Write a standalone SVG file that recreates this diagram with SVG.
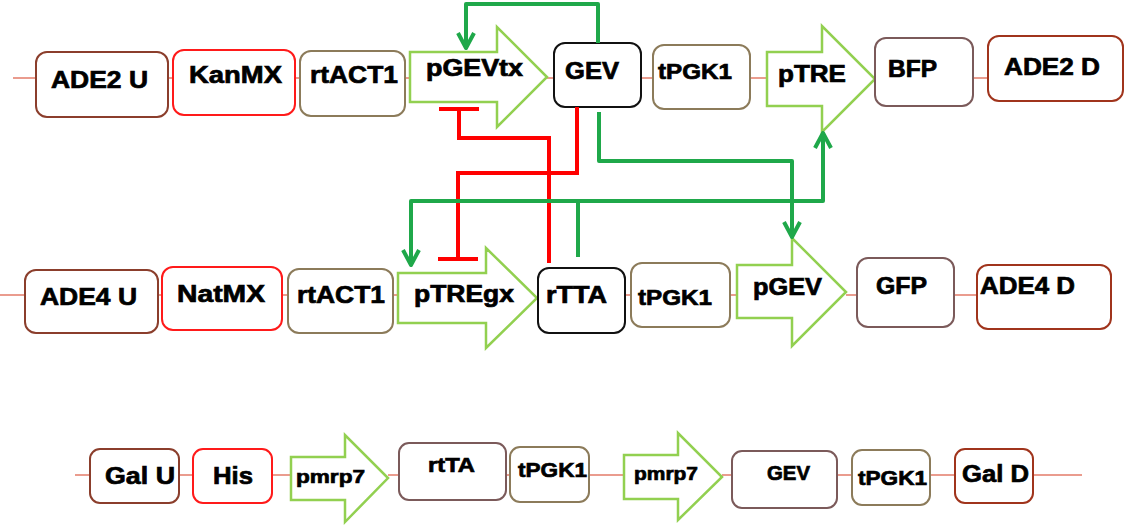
<svg xmlns="http://www.w3.org/2000/svg" width="1146" height="527" viewBox="0 0 1146 527">
<defs>
<style>
text{font-family:"Liberation Sans",Arial,sans-serif;font-weight:bold;fill:#000;stroke:#000;stroke-width:0.7;}
.bb{fill:#fff;stroke-width:2;}
.brown{stroke:#8B3E2C;}
.red{stroke:#FF1A1A;}
.tan{stroke:#8C7B5A;}
.blk{stroke:#111;}
.mauve{stroke:#7B5A5A;}
.rust{stroke:#A0341C;}
.prom{fill:#fff;stroke:#92D050;stroke-width:2.5;}
.bb2{fill:none;stroke:#D63A1E;stroke-width:1.2;}
.act{fill:none;stroke:#1FA84A;stroke-width:4;stroke-linejoin:round;}
.rep{fill:none;stroke:#FF0000;stroke-width:4;}
</style>
<marker id="chev" viewBox="-18 -11 20 22" refX="0" refY="0" markerWidth="20" markerHeight="22" markerUnits="userSpaceOnUse" orient="auto-start-reverse">
<path d="M-15,-8 L0,0 L-15,8" fill="none" stroke="#1FA84A" stroke-width="4" stroke-linejoin="round"/>
</marker>
<marker id="tbar" viewBox="-3 -22 6 44" refX="0" refY="0" markerWidth="6" markerHeight="44" markerUnits="userSpaceOnUse" orient="auto">
<path d="M0,-20 L0,20" stroke="#FF0000" stroke-width="4"/>
</marker>
</defs>
<rect width="1146" height="527" fill="#fff"/>

<g id="backbones">
<path class="bb2" d="M13,78H36 M168,78H173 M295,78H300 M405,78H410 M547,78H554 M641,78H653 M750,78H767 M973,78H988"/>
<path class="bb2" d="M0,295H25 M158,295H162 M282,295H288 M393,295H398 M537,295H538 M625,295H631 M730,295H737 M846,295H857 M954,295H977"/>
<path class="bb2" d="M75,475H90 M179,475H193 M272,475H291 M388,475H399 M506,475H510 M589,475H624 M722,475H732 M837,475H852 M930,475H955 M1033,475H1082"/>
</g>

<!-- Top row -->
<g id="ade2u"><rect class="bb brown" x="36" y="52" width="132" height="65" rx="11"/><text x="51" y="88" font-size="24" textLength="97" lengthAdjust="spacingAndGlyphs">ADE2 U</text></g>
<g id="kanmx"><rect class="bb red" x="173" y="50" width="122" height="65" rx="11"/><text x="189" y="83" font-size="24" textLength="93" lengthAdjust="spacingAndGlyphs">KanMX</text></g>
<g id="rtact1a"><rect class="bb tan" x="300" y="51" width="105" height="65" rx="11"/><text x="310" y="83" font-size="24" textLength="88" lengthAdjust="spacingAndGlyphs">rtACT1</text></g>
<g id="pgevtx"><polygon class="prom" points="410,52 497,52 497,27 547,77 497,127 497,102 410,102"/><text x="426" y="76" font-size="23" textLength="97" lengthAdjust="spacingAndGlyphs">pGEVtx</text></g>
<g id="gev1"><rect class="bb blk" x="554" y="43" width="87" height="64" rx="11"/><text x="565" y="79" font-size="23" textLength="54" lengthAdjust="spacingAndGlyphs">GEV</text></g>
<g id="tpgk1a"><rect class="bb tan" x="653" y="45" width="97" height="64" rx="11"/><text x="658" y="79" font-size="22" textLength="74" lengthAdjust="spacingAndGlyphs">tPGK1</text></g>
<g id="ptre"><polygon class="prom" points="767,52 822,52 822,26 875,79 822,132 822,106 767,106"/><text x="778" y="82" font-size="23" textLength="68" lengthAdjust="spacingAndGlyphs">pTRE</text></g>
<g id="bfp"><rect class="bb mauve" x="875" y="38" width="98" height="68" rx="11"/><text x="888" y="77" font-size="23" textLength="49" lengthAdjust="spacingAndGlyphs">BFP</text></g>
<g id="ade2d"><rect class="bb rust" x="988" y="36" width="135" height="65" rx="11"/><text x="1004" y="75" font-size="24" textLength="96" lengthAdjust="spacingAndGlyphs">ADE2 D</text></g>

<!-- Middle row -->
<g id="ade4u"><rect class="bb brown" x="25" y="270" width="133" height="63" rx="11"/><text x="40" y="305" font-size="24" textLength="97" lengthAdjust="spacingAndGlyphs">ADE4 U</text></g>
<g id="natmx"><rect class="bb red" x="162" y="267" width="120" height="63" rx="11"/><text x="177" y="302" font-size="24" textLength="88" lengthAdjust="spacingAndGlyphs">NatMX</text></g>
<g id="rtact1b"><rect class="bb tan" x="288" y="269" width="105" height="64" rx="11"/><text x="297" y="303" font-size="24" textLength="88" lengthAdjust="spacingAndGlyphs">rtACT1</text></g>
<g id="ptregx"><polygon class="prom" points="398,273 486,273 486,248 537,298 486,348 486,323 398,323"/><text x="414" y="302" font-size="23" textLength="100" lengthAdjust="spacingAndGlyphs">pTREgx</text></g>
<g id="rtta1"><rect class="bb blk" x="538" y="268" width="87" height="65" rx="11"/><text x="546" y="303" font-size="23" textLength="61" lengthAdjust="spacingAndGlyphs">rTTA</text></g>
<g id="tpgk1b"><rect class="bb tan" x="631" y="263" width="99" height="64" rx="11"/><text x="638" y="305" font-size="22" textLength="74" lengthAdjust="spacingAndGlyphs">tPGK1</text></g>
<g id="pgev"><polygon class="prom" points="737,265 792,265 792,238 846,292 792,346 792,318 737,318"/><text x="753" y="295" font-size="23" textLength="69" lengthAdjust="spacingAndGlyphs">pGEV</text></g>
<g id="gfp"><rect class="bb mauve" x="857" y="258" width="97" height="69" rx="11"/><text x="876" y="294" font-size="23" textLength="51" lengthAdjust="spacingAndGlyphs">GFP</text></g>
<g id="ade4d"><rect class="bb rust" x="977" y="265" width="134" height="64" rx="11"/><text x="980" y="294" font-size="24" textLength="95" lengthAdjust="spacingAndGlyphs">ADE4 D</text></g>

<!-- Bottom row -->
<g id="galu"><rect class="bb brown" x="90" y="449" width="89" height="54" rx="10"/><text x="105" y="484" font-size="24" textLength="70" lengthAdjust="spacingAndGlyphs">Gal U</text></g>
<g id="his"><rect class="bb red" x="193" y="449" width="79" height="54" rx="10"/><text x="213" y="484" font-size="24" textLength="40" lengthAdjust="spacingAndGlyphs">His</text></g>
<g id="pmrp7a"><polygon class="prom" points="291,457 345,457 345,435 388,478 345,522 345,500 291,500"/><text x="296" y="483" font-size="19" textLength="69" lengthAdjust="spacingAndGlyphs">pmrp7</text></g>
<g id="rtta2"><rect class="bb mauve" x="399" y="443" width="107" height="57" rx="10"/><text x="428" y="472" font-size="20" textLength="47" lengthAdjust="spacingAndGlyphs">rtTA</text></g>
<g id="tpgk1c"><rect class="bb tan" x="510" y="447" width="79" height="55" rx="10"/><text x="518" y="477" font-size="21" textLength="69" lengthAdjust="spacingAndGlyphs">tPGK1</text></g>
<g id="pmrp7b"><polygon class="prom" points="624,455 678,455 678,433 722,477 678,520 678,499 624,499"/><text x="634" y="480" font-size="19" textLength="64" lengthAdjust="spacingAndGlyphs">pmrp7</text></g>
<g id="gev2"><rect class="bb mauve" x="732" y="451" width="105" height="57" rx="10"/><text x="767" y="480" font-size="20" textLength="43" lengthAdjust="spacingAndGlyphs">GEV</text></g>
<g id="tpgk1d"><rect class="bb tan" x="852" y="450" width="78" height="55" rx="10"/><text x="858" y="485" font-size="20" textLength="69" lengthAdjust="spacingAndGlyphs">tPGK1</text></g>
<g id="gald"><rect class="bb rust" x="955" y="449" width="78" height="54" rx="10"/><text x="962" y="482" font-size="24" textLength="67" lengthAdjust="spacingAndGlyphs">Gal D</text></g>

<g id="connectors">
<path class="rep" d="M549,263 V138 H459 V109" marker-end="url(#tbar)"/>
<path class="rep" d="M577,107 V173 H458 V259" marker-end="url(#tbar)"/>
<path class="act" d="M598,43 V4 H466 V48" marker-end="url(#chev)"/>
<path class="act" d="M599,112 V161 H792 V237" marker-end="url(#chev)"/>
<path class="act" d="M578,257 V201"/>
<path class="act" d="M411,265 V201 H823 V133" marker-start="url(#chev)" marker-end="url(#chev)"/>
</g>
</svg>
